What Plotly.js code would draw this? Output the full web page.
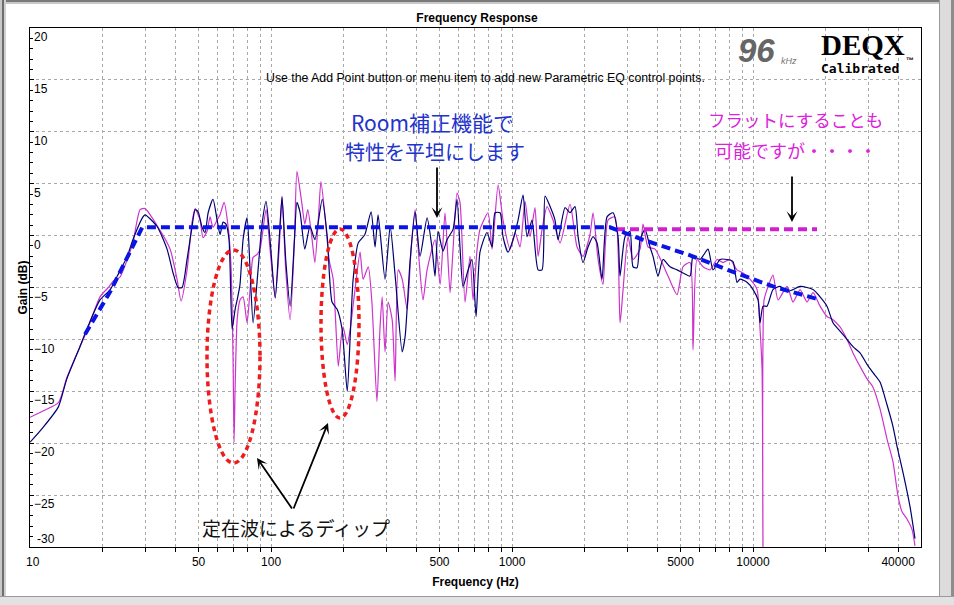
<!DOCTYPE html>
<html>
<head>
<meta charset="utf-8">
<script src="https://cdn.plot.ly/plotly-3.0.1.min.js"></script>
<style>
  html, body { margin:0; padding:0; background:#ffffff; }
  #wrap { position:relative; width:954px; height:605px; overflow:hidden; }
  #chart { position:absolute; left:0; top:0; width:954px; height:605px; }
  .fr { position:absolute; pointer-events:none; }
</style>
</head>
<body>
<div id="wrap">
  <div id="chart"></div>
  <div class="fr" style="left:0;top:0;width:954px;height:2px;background:#7a7a7a;"></div>
  <div class="fr" style="left:0;top:2px;width:954px;height:2px;background:#c8c8c8;"></div>
  <div class="fr" style="left:0;top:0;width:2px;height:605px;background:#c8c8c8;"></div>
  <div class="fr" style="left:2px;top:0;width:2px;height:605px;background:#6e6e6e;"></div>
  <div class="fr" style="left:4px;top:0;width:2px;height:605px;background:#d0d0d0;"></div>
  <div class="fr" style="left:939px;top:0;width:1px;height:605px;background:#9a9a9a;"></div>
  <div class="fr" style="left:940px;top:0;width:11px;height:605px;background:#dcdcdc;"></div>
  <div class="fr" style="left:951px;top:0;width:3px;height:605px;background:#8c8c8c;"></div>
  <div class="fr" style="left:0;top:596px;width:954px;height:1px;background:#9a9a9a;"></div>
  <div class="fr" style="left:0;top:597px;width:954px;height:8px;background:#e2e2e2;"></div>
</div>
<script>
// ---- measured response: navy curve ----
const freqNavy = [10,11.3,13.1,14.2,16.1,17.2,19.5,21.5,23.0,25.3,26.7,29.4,30.0,33.6,37.0,39.2,41.1,42.7,44.8,47.0,48.4,49.8,51.7,53.2,54.8,57.4,59.7,61.4,63.2,65.0,66.9,68.9,70.9,72.3,74.3,76.5,79.5,81.8,84.2,88.3,91.7,95.3,99.0,104,108,111,115,120,125,128,132,138,145,152,163,171,179,188,197,207,213,219,230,245,260,270,278,297,312,327,350,360,377,396,415,444,466,479,493,517,537,569,591,608,626,657,682,709,736,787,826,850,892,917,962,1010,1059,1111,1154,1210,1282,1332,1371,1438,1507,1552,1659,1740,1825,1879,1970,2067,2168,2253,2362,2478,2624,2753,2806,2943,3087,3176,3301,3397,3562,3737,3846,4034,4230,4523,4837,5122,5476,5635,6025,6504,6822,7294,7799,8258,8580,8829,9440,10000,10490,10690,11000,11430,12100,12940,13840,14650,15670,16750,17740,18970,20270,21470,22960,24540,25990,27800,29720,31460,33650,35970,38090,39580,41900,44810,47000];
const gainNavy = [-19.9,-18.5,-16.5,-13.8,-10.7,-9.0,-6.2,-5.2,-3.9,-2.0,-0.4,1.8,2.0,0.9,-1.3,-3.6,-5.0,-5.0,-2.3,0.9,2.5,2.3,0.8,0.3,2.2,3.5,1.5,0.1,1.3,1.1,-0.4,-9.0,-7.1,-6.2,-4.7,-0.4,1.7,-3.3,-8.4,-3.3,1.1,3.3,-0.4,-6.0,-0.4,3.7,-2.3,-6.8,-0.4,3.2,2.2,-1.3,0.9,-0.4,3.5,-0.1,-6.4,-7.1,-9.0,-15.0,-9.7,-4.2,-0.7,0.1,2.3,-1.1,2.0,-4.2,0.9,-3.8,-11.2,-9.7,-2.6,2.3,-2.0,1.7,-1.3,-3.9,0.4,-1.5,-0.4,0.6,3.5,-1.1,-4.9,-3.3,-2.3,-7.8,-1.6,0.3,-1.1,2.2,2.2,-0.1,-1.6,-0.4,1.5,3.9,-0.1,1.5,-3.3,-3.3,3.8,2.8,1.5,-0.4,2.7,2.2,2.8,-0.1,-2.6,-1.1,-0.1,-0.7,-4.2,1.8,2.2,-0.1,-3.9,-0.1,0.4,-3.0,-3.1,-0.4,0.6,-1.1,-2.0,-3.9,-2.3,-3.0,-3.3,-3.6,-3.9,-2.0,-2.3,-1.3,-3.3,-2.3,-2.3,-2.5,-4.5,-4.2,-4.5,-5.2,-6.2,-8.4,-6.8,-6.8,-5.2,-4.9,-5.4,-5.2,-4.9,-5.0,-5.2,-5.9,-6.8,-8.4,-9.2,-10.0,-10.7,-11.3,-12.4,-13.2,-14.1,-16.3,-18.4,-20.3,-22.8,-26.1,-29.2];

// ---- measured response: magenta curve ----
const freqMag = [10,11.3,13.1,14.2,16.1,17.2,19.5,21.1,22.1,23.6,25.3,26.7,28.6,30.0,34.6,38.1,40.7,42.3,44.8,47.0,48.4,50.7,52.2,54.2,55.8,57.4,59.7,61.4,63.8,66.3,68.2,69.5,70.2,70.9,72.3,74.3,76.5,79.5,81.8,84.2,87.5,90.0,95.3,99.0,104,108,111,115,120,125,128,134,138,142,148,152,157,161,168,174,181,190,195,199,207,213,223,234,241,253,262,275,283,289,297,306,318,327,337,350,367,381,396,411,427,444,479,503,527,553,569,591,608,638,669,689,716,736,795,826,875,917,981,1029,1079,1132,1187,1245,1282,1332,1397,1479,1582,1740,1861,1970,2106,2168,2275,2385,2502,2674,2806,2888,3029,3176,3397,3495,3667,3919,4190,4438,4837,5122,5476,5635,5855,6200,6629,7088,7505,8025,8580,9086,9716,10390,10690,10900,11000,11110,11430,12100,12700,13840,14650,15670,16750,17740,18970,20270,21470,22960,24540,25990,27800,29720,31460,33650,35970,38090,39960,41520,43530,45670,47000];
const gainMag = [-17.5,-16.9,-16.1,-13.7,-10.7,-9.2,-5.9,-5.0,-4.4,-4.0,-2.3,-0.7,2.5,2.6,0.5,-1.3,-4.2,-6.3,-3.3,1.3,2.6,1.5,-0.2,0.4,1.8,0.8,1.5,2.0,3.2,0.9,-3.0,-11.6,-19.9,-14.8,-8.1,-6.2,-5.9,-8.4,-5.2,-2.1,-1.8,-1.3,2.5,-1.3,-6.0,-1.3,3.8,-3.3,-8.1,-0.4,6.2,3.2,1.1,2.5,-0.4,-2.6,1.5,5.2,1.5,-2.3,-4.2,-12.6,-10.0,-8.8,-10.5,-9.0,-5.2,-1.6,-4.2,-3.0,-6.4,-16.0,-9.0,-5.9,-11.2,-6.4,-8.1,-14.0,-3.3,-4.2,-7.1,-1.3,2.5,-2.3,-6.2,-3.3,-0.4,-4.7,2.2,-5.5,-1.3,4.1,3.2,-6.4,-2.0,-6.2,-1.3,0.6,2.2,-1.3,4.9,1.5,-1.3,0.3,-1.1,3.3,-0.1,2.7,-2.0,0.6,2.8,1.5,-0.7,3.0,-1.1,-2.0,0.1,2.2,-2.3,-4.7,1.5,1.8,-8.4,-5.2,-0.1,-2.3,-1.3,1.1,-1.1,-1.3,-2.6,-3.9,-5.7,-3.0,-2.6,-11.0,-2.3,-3.0,-3.3,-2.3,-2.6,-2.3,-3.3,-3.6,-4.2,-5.2,-9.0,-12.9,-32,-6.2,-5.2,-3.8,-6.2,-4.9,-6.4,-5.2,-6.4,-5.5,-6.8,-7.8,-8.1,-8.8,-10.0,-11.3,-12.6,-13.8,-14.6,-16.7,-19.6,-21.8,-25.1,-26.6,-27.3,-28.3,-29.9];

// ---- target curves (dashed) ----
const targetFreq = [16.9, 21.5, 29.2, 2550, 3500, 5480, 8260, 12100, 18430];
const targetGain = [-9.5, -5.4, 0.8, 0.8, -0.4, -1.9, -3.5, -4.9, -6.1];
const flatFreq = [2700, 18430];
const flatGain = [0.6, 0.6];

// ---- axis ticks ----
const xGridVals = [10,20,30,40,50,60,70,80,90,100,200,300,400,500,600,700,800,900,1000,2000,3000,4000,5000,6000,7000,8000,9000,10000,20000,30000,40000];
const xLabelVals = [10,50,100,500,1000,5000,10000,40000];
const yTickVals = [-30,-25,-20,-15,-10,-5,0,5,10,15,20];

const xTickText = xGridVals.map(v => xLabelVals.includes(v) ? String(v) : '');

const navyCol = '#000070';
const magCol = '#cc33cc';

const traces = [
  {x: freqMag, y: gainMag, type:'scatter', mode:'lines', line:{color:magCol, width:1.2, shape:'spline', smoothing:0.6}, hoverinfo:'skip'},
  {x: freqNavy, y: gainNavy, type:'scatter', mode:'lines', line:{color:navyCol, width:1.2, shape:'spline', smoothing:0.6}, hoverinfo:'skip'},
  {x: flatFreq, y: flatGain, type:'scatter', mode:'lines', line:{color:'#d21ed2', width:4, dash:'9px,5px'}, hoverinfo:'skip'},
  {x: targetFreq, y: targetGain, type:'scatter', mode:'lines', line:{color:'#0a14e6', width:4, dash:'9px,5px'}, hoverinfo:'skip'}
];

const sans = 'Liberation Sans, Arial, sans-serif';
const jp = 'Noto Sans CJK JP, sans-serif';
function px(X){ return (X-30)/891; }
function py(Y){ return (547-Y)/519; }

const ann = [
  {text:'Use the Add Point button or menu item to add new Parametric EQ control points.', x:px(485), y:py(78), font:{family:sans, size:12.3, color:'#000'}},
  {text:'96', x:px(756), y:py(50), font:{family:sans, size:33, color:'#666666', weight:'bold', style:'italic'}},
  {text:'kHz', x:px(789), y:py(61), font:{family:sans, size:9, color:'#777777', style:'italic'}},
  {text:'DEQX', x:px(863), y:py(45), borderpad:0, font:{family:'Liberation Serif, serif', size:29, color:'#000', weight:'bold'}},
  {text:'Calibrated', x:px(860), y:py(68), borderpad:0, font:{family:'DejaVu Sans Mono, monospace', size:13, color:'#000', weight:'bold'}},
  {text:'™', x:px(910), y:py(60), borderpad:0, font:{family:sans, size:8, color:'#000', weight:'bold'}},
  {text:'Room補正機能で', x:px(432), y:py(122), font:{family:jp, size:21, color:'#2233cc'}},
  {text:'特性を平坦にします', x:px(435), y:py(151), font:{family:jp, size:20, color:'#2233cc'}},
  {text:'フラットにすることも', x:px(795), y:py(120), font:{family:jp, size:17.5, color:'#dd22dd'}},
  {text:'可能ですが・・・・', x:px(796), y:py(150), font:{family:jp, size:18, color:'#dd22dd'}},
  {text:'定在波によるディップ', x:px(296), y:py(527), font:{family:jp, size:19, color:'#111'}},
  {text:String(yTickVals[0]), xref:'paper', yref:'y', x:0, y:yTickVals[0], xanchor:'left', yanchor:'bottom', xshift:5, yshift:-1, font:{family:sans, size:12, color:'#000'}},
  {text:String(xLabelVals[0]), xref:'x', yref:'paper', x:Math.log10(xLabelVals[0]), y:0, xanchor:'center', yanchor:'top', xshift:3, yshift:-6, font:{family:sans, size:12, color:'#000'}},
  {text:'', x:px(437), y:py(218), showarrow:true, ax:0, ay:-52, arrowhead:3, arrowsize:1, arrowwidth:1.8, arrowcolor:'#000'},
  {text:'', x:px(792), y:py(222), showarrow:true, ax:0, ay:-47, arrowhead:3, arrowsize:1, arrowwidth:1.8, arrowcolor:'#000'},
  {text:'', x:px(257), y:py(458), showarrow:true, ax:36, ay:52, arrowhead:3, arrowsize:1, arrowwidth:1.8, arrowcolor:'#000'},
  {text:'', x:px(328), y:py(423), showarrow:true, ax:-35, ay:87, arrowhead:3, arrowsize:1, arrowwidth:1.8, arrowcolor:'#000'}
].map(a => Object.assign({xref:'paper', yref:'paper', showarrow:false, xanchor:'center', yanchor:'middle'}, a));

const shapes = [
  {type:'circle', xref:'paper', yref:'paper', x0:px(207), x1:px(260), y0:py(463), y1:py(250), line:{color:'#ee1c1c', width:3.5, dash:'5px,4px'}},
  {type:'circle', xref:'paper', yref:'paper', x0:px(321), x1:px(359), y0:py(418), y1:py(229), line:{color:'#ee1c1c', width:3.5, dash:'5px,4px'}}
];

const layout = {
  width:954, height:605,
  margin:{l:30, r:33, t:28, b:58},
  paper_bgcolor:'#ffffff', plot_bgcolor:'#ffffff',
  showlegend:false,
  title:{text:'Frequency Response', x:0.5, xref:'container', y:1-18/605, yref:'container', yanchor:'middle', font:{family:sans, size:12, color:'#000', weight:'bold'}},
  xaxis:{
    type:'log', range:[0.9995, 4.697],
    tickvals:xGridVals, ticktext:xTickText,
    ticks:'outside', ticklen:4, tickcolor:'#000',
    showgrid:true, gridcolor:'#a8a8a8', griddash:'dot', gridwidth:1,
    showline:true, mirror:true, linecolor:'#000', linewidth:1,
    zeroline:false,
    tickfont:{family:sans, size:12, color:'#000'},
    title:{text:'Frequency (Hz)', standoff:9, font:{family:sans, size:12, color:'#000', weight:'bold'}}
  },
  yaxis:{
    range:[-30, 20],
    tickvals:yTickVals,
    ticks:'inside', ticklen:4, tickcolor:'#000',
    ticklabelposition:'inside bottom',
    ticklabelstandoff:3,
    minor:{dtick:1, ticks:'inside', ticklen:3, tickcolor:'#000', showgrid:false},
    showgrid:true, gridcolor:'#a8a8a8', griddash:'dot', gridwidth:1,
    showline:true, mirror:true, linecolor:'#000', linewidth:1,
    zeroline:false,
    tickfont:{family:sans, size:12, color:'#000'},
    title:{text:'Gain (dB)', standoff:3, font:{family:sans, size:12, color:'#000', weight:'bold'}}
  },
  annotations:ann,
  shapes:shapes
};

Plotly.newPlot('chart', traces, layout, {displayModeBar:false, staticPlot:true});
</script>
</body>
</html>
